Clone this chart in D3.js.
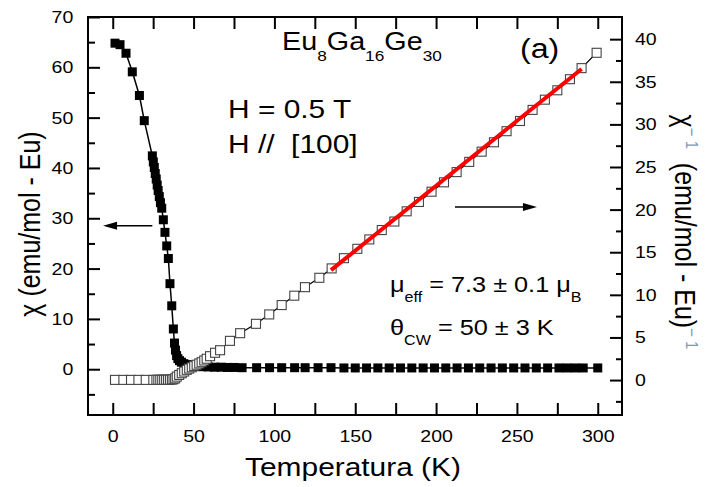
<!DOCTYPE html>
<html>
<head>
<meta charset="utf-8">
<script src="https://cdn.jsdelivr.net/npm/d3@7"></script>
<style>
body { margin: 0; background: #fff; }
text { font-family: "Liberation Sans", Arial, sans-serif; fill: #000; }
</style>
</head>
<body>
<div id="chart"></div>
<script>
// chi (filled squares, left axis)
var tempChi = [1.4, 4.5, 8.2, 12.1, 16.5, 19.5, 24.5,
    25.1, 25.7, 26.3, 26.9, 27.5, 28.1, 28.8, 29.5, 30.3,
    31.3, 32.3, 33.4, 34.4, 35.4, 36.5, 37.5,
    38.2, 38.8, 39.5, 40.3, 41.3, 42.5, 44.0, 46.0, 48.5, 51.5,
    55, 59, 63, 67, 71, 75, 80,
    89, 97, 104.5, 112.5, 119, 127, 135,
    143, 150, 157, 164, 171, 178, 185, 192, 199, 206, 213, 220, 227, 234, 241, 248, 255, 262, 269, 276,
    281, 286, 291, 300];
var chi = [64.8, 64.5, 62.8, 59.1, 54.4, 49.4, 42.4,
    41.2, 40.1, 38.9, 37.8, 36.6, 35.5, 34.3, 33.1, 32.0,
    29.7, 27.2, 24.5, 22.0, 17.0, 12.6, 8.0,
    5.2, 3.8, 2.7, 2.1, 1.7, 1.4, 1.1, 0.9, 0.8, 0.6,
    0.5, 0.45, 0.4, 0.4, 0.35, 0.35, 0.3,
    0.3, 0.3, 0.3, 0.3, 0.3, 0.3, 0.3,
    0.25, 0.25, 0.25, 0.25, 0.25, 0.25, 0.25, 0.25, 0.25, 0.25, 0.25, 0.25, 0.25, 0.25, 0.25, 0.25, 0.25, 0.25, 0.25, 0.25,
    0.25, 0.25, 0.25, 0.25];

// 1/chi (open squares, right axis)
var tempInv = [1.4, 6.6, 11.3, 15.9, 20.4, 25.1,
    27.0, 28.2, 29.4, 30.6, 31.8, 33.0, 34.2, 35.4, 36.6, 37.6,
    38.6, 39.6, 41.1, 42.7, 44.2, 45.8, 47.3, 48.9, 50.4, 51.9, 53.5, 55.0, 56.6, 58.1, 60.2, 63.3, 66.4,
    72.5, 78.8, 88.6, 96.8, 104.5, 112.3, 118.9, 127.8, 135.4,
    143.0, 151.3, 158.7, 166.4, 174.2, 181.8, 189.4, 197.2, 204.9, 212.7, 220.5, 228.2, 235.8, 243.6, 251.9, 259.7, 267.3, 275.0, 282.8, 290.0, 299.3];
var chiInv = [0.02, 0.02, 0.02, 0.02, 0.02, 0.02,
    0.03, 0.03, 0.03, 0.03, 0.03, 0.04, 0.04, 0.05, 0.06, 0.1,
    0.2, 0.4, 0.6, 0.8, 1.0, 1.2, 1.35, 1.5, 1.65, 1.8, 1.95, 2.1, 2.3, 2.5, 2.8, 3.2, 3.5,
    4.6, 5.5, 6.6, 7.7, 8.8, 9.9, 10.9, 12.0, 13.1,
    14.3, 15.4, 16.5, 17.6, 18.6, 19.8, 20.9, 22.1, 23.2, 24.4, 25.6, 26.8, 27.9, 29.2, 30.4, 31.7, 32.9, 34.0, 35.3, 36.6, 38.4];

// Curie-Weiss fit (red line)
var fitT = [135, 290];
var fitInv = [12.9, 36.5];

var xTicks = [0, 25, 50, 75, 100, 125, 150, 175, 200, 225, 250, 275, 300];
var xLabels = [0, 50, 100, 150, 200, 250, 300];
var yLeftTicks = [-5, 0, 5, 10, 15, 20, 25, 30, 35, 40, 45, 50, 55, 60, 65, 70];
var yRightTicks = [-2.5, 0, 2.5, 5, 7.5, 10, 12.5, 15, 17.5, 20, 22.5, 25, 27.5, 30, 32.5, 35, 37.5, 40];

var W = 705, H = 487;
var SX = 1.15; // the original figure is a bit wider than tall
var FONT = '"Liberation Sans", Arial, sans-serif';

var svg = d3.select("#chart").append("svg")
    .attr("width", W)
    .attr("height", H);

var x = d3.scaleLinear().domain([-15.3, 315]).range([88, 622]);
var yL = d3.scaleLinear().domain([-9.1, 70]).range([415, 17]);
var yR = d3.scaleLinear().domain([-4.1, 42.6]).range([415, 17]);

function place(sel, tx, ty, rot) {
    sel.attr("transform", "translate(" + tx + "," + ty + ") scale(" + SX + ",1)" + (rot ? " rotate(" + rot + ")" : ""));
    return sel;
}

function styleAxis(g) {
    g.attr("font-family", FONT).attr("font-size", 17);
    g.select(".domain").remove();
    g.selectAll(".tick line").attr("stroke", "#000").attr("stroke-width", 2);
    g.selectAll(".tick text").attr("fill", "#000").attr("transform", "scale(" + SX + ",1)");
}

// bottom axis
var gB = svg.append("g")
    .attr("transform", "translate(0,415)")
    .call(d3.axisBottom(x).tickValues(xTicks).tickSizeInner(-12).tickSizeOuter(0).tickPadding(15)
        .tickFormat(function(d) { return xLabels.indexOf(d) >= 0 ? d : ""; }));
styleAxis(gB);

// top axis
var gT = svg.append("g")
    .attr("transform", "translate(0,17)")
    .call(d3.axisTop(x).tickValues(xTicks).tickSizeInner(-12).tickSizeOuter(0).tickFormat(""));
styleAxis(gT);

// left axis
var gL = svg.append("g")
    .attr("transform", "translate(88,0)")
    .call(d3.axisLeft(yL).tickValues(yLeftTicks).tickSizeInner(-12).tickSizeOuter(0).tickPadding(12.8)
        .tickFormat(function(d) { return d % 10 === 0 ? d : ""; }));
styleAxis(gL);
gL.selectAll(".tick line").attr("x2", function(d) { return d % 10 === 0 ? 12 : 7; });

// right axis
var gR = svg.append("g")
    .attr("transform", "translate(622,0)")
    .call(d3.axisRight(yR).tickValues(yRightTicks).tickSizeInner(-12).tickSizeOuter(0).tickPadding(11.3)
        .tickFormat(function(d) { return d % 5 === 0 ? d : ""; }));
styleAxis(gR);
gR.selectAll(".tick line").attr("x2", function(d) { return d % 5 === 0 ? -12 : -6; });

// frame
svg.append("rect")
    .attr("x", 88).attr("y", 17)
    .attr("width", 534).attr("height", 398)
    .attr("fill", "none")
    .attr("stroke", "#000")
    .attr("stroke-width", 2);

var S = 9;

// chi line + filled squares
var chiPts = tempChi.map(function(t, i) { return [t, chi[i]]; });
svg.append("path")
    .attr("d", d3.line().x(function(d) { return x(d[0]); }).y(function(d) { return yL(d[1]); })(chiPts))
    .attr("fill", "none")
    .attr("stroke", "#000")
    .attr("stroke-width", 1.5);
svg.selectAll("rect.chi")
    .data(chiPts)
    .enter()
    .append("rect")
    .attr("class", "chi")
    .attr("x", function(d) { return x(d[0]) - S / 2; })
    .attr("y", function(d) { return yL(d[1]) - S / 2; })
    .attr("width", S).attr("height", S)
    .attr("fill", "#000");

// 1/chi line + open squares
var invPts = tempInv.map(function(t, i) { return [t, chiInv[i]]; });
svg.append("path")
    .attr("d", d3.line().x(function(d) { return x(d[0]); }).y(function(d) { return yR(d[1]); })(invPts))
    .attr("fill", "none")
    .attr("stroke", "#000")
    .attr("stroke-width", 1.2);
svg.selectAll("rect.inv")
    .data(invPts)
    .enter()
    .append("rect")
    .attr("class", "inv")
    .attr("x", function(d) { return x(d[0]) - S / 2; })
    .attr("y", function(d) { return yR(d[1]) - S / 2; })
    .attr("width", S).attr("height", S)
    .attr("fill", "#fff")
    .attr("stroke", "#444")
    .attr("stroke-width", 1.1);

// fit line
svg.append("line")
    .attr("x1", x(fitT[0])).attr("y1", yR(fitInv[0]))
    .attr("x2", x(fitT[1])).attr("y2", yR(fitInv[1]))
    .attr("stroke", "#ff0000")
    .attr("stroke-width", 4);

// arrows
function arrow(x1, y1, x2, y2) {
    var dir = x2 > x1 ? 1 : -1;
    svg.append("line")
        .attr("x1", x1).attr("y1", y1)
        .attr("x2", x2 - dir * 10).attr("y2", y2)
        .attr("stroke", "#000").attr("stroke-width", 1.5);
    svg.append("path")
        .attr("d", "M" + x2 + "," + y2 + " L" + (x2 - dir * 14) + "," + (y2 - 4) + " L" + (x2 - dir * 14) + "," + (y2 + 4) + " Z")
        .attr("fill", "#000");
}
arrow(x(24.5), yL(28.5), x(-6), yL(28.5));
arrow(x(211.7), yR(20.3), x(262.4), yR(20.3));

// texts
var t1 = svg.append("text").attr("font-size", 25);
t1.append("tspan").text("Eu");
t1.append("tspan").attr("font-size", 15).attr("dy", 11).text("8");
t1.append("tspan").attr("dy", -11).text("Ga");
t1.append("tspan").attr("font-size", 15).attr("dy", 11).text("16");
t1.append("tspan").attr("dy", -11).text("Ge");
t1.append("tspan").attr("font-size", 15).attr("dy", 11).text("30");
place(t1, 282, 50);

place(svg.append("text").attr("font-size", 28).text("(a)"), 520, 58);
place(svg.append("text").attr("font-size", 26).text("H = 0.5 T"), 228, 118);
place(svg.append("text").attr("font-size", 26).attr("xml:space", "preserve").text("H //  [100]"), 228, 153);

var t2 = svg.append("text").attr("font-size", 22).attr("xml:space", "preserve");
t2.append("tspan").text("\u03bc");
t2.append("tspan").attr("font-size", 14).attr("dy", 10).text("eff");
t2.append("tspan").attr("dy", -10).text(" = 7.3 \u00b1 0.1 \u03bc");
t2.append("tspan").attr("font-size", 14).attr("dy", 10).text("B");
place(t2, 390, 292);

var t3 = svg.append("text").attr("font-size", 22).attr("xml:space", "preserve");
t3.append("tspan").text("\u03b8");
t3.append("tspan").attr("font-size", 14).attr("dy", 10).text("CW");
t3.append("tspan").attr("dy", -10).text(" = 50 \u00b1 3 K");
place(t3, 390, 335);

// axis titles
place(svg.append("text").attr("font-size", 26).attr("text-anchor", "middle").text("Temperatura (K)"), 353, 476);
place(svg.append("text").attr("font-size", 25).attr("text-anchor", "middle").text("\u03c7 (emu/mol - Eu)"), 40, 224, -90);

var t4 = svg.append("text").attr("font-size", 25).attr("text-anchor", "middle").attr("xml:space", "preserve");
t4.append("tspan").text("\u03c7");
t4.append("tspan").attr("font-size", 15).attr("dy", -10).attr("fill", "#7f95c0").text("\u2212 1");
t4.append("tspan").attr("dy", 10).text("  (emu/mol - Eu)");
t4.append("tspan").attr("font-size", 15).attr("dy", -10).attr("fill", "#7f95c0").text("\u2212 1");
place(t4, 675, 232, 90);
</script>
</body>
</html>
